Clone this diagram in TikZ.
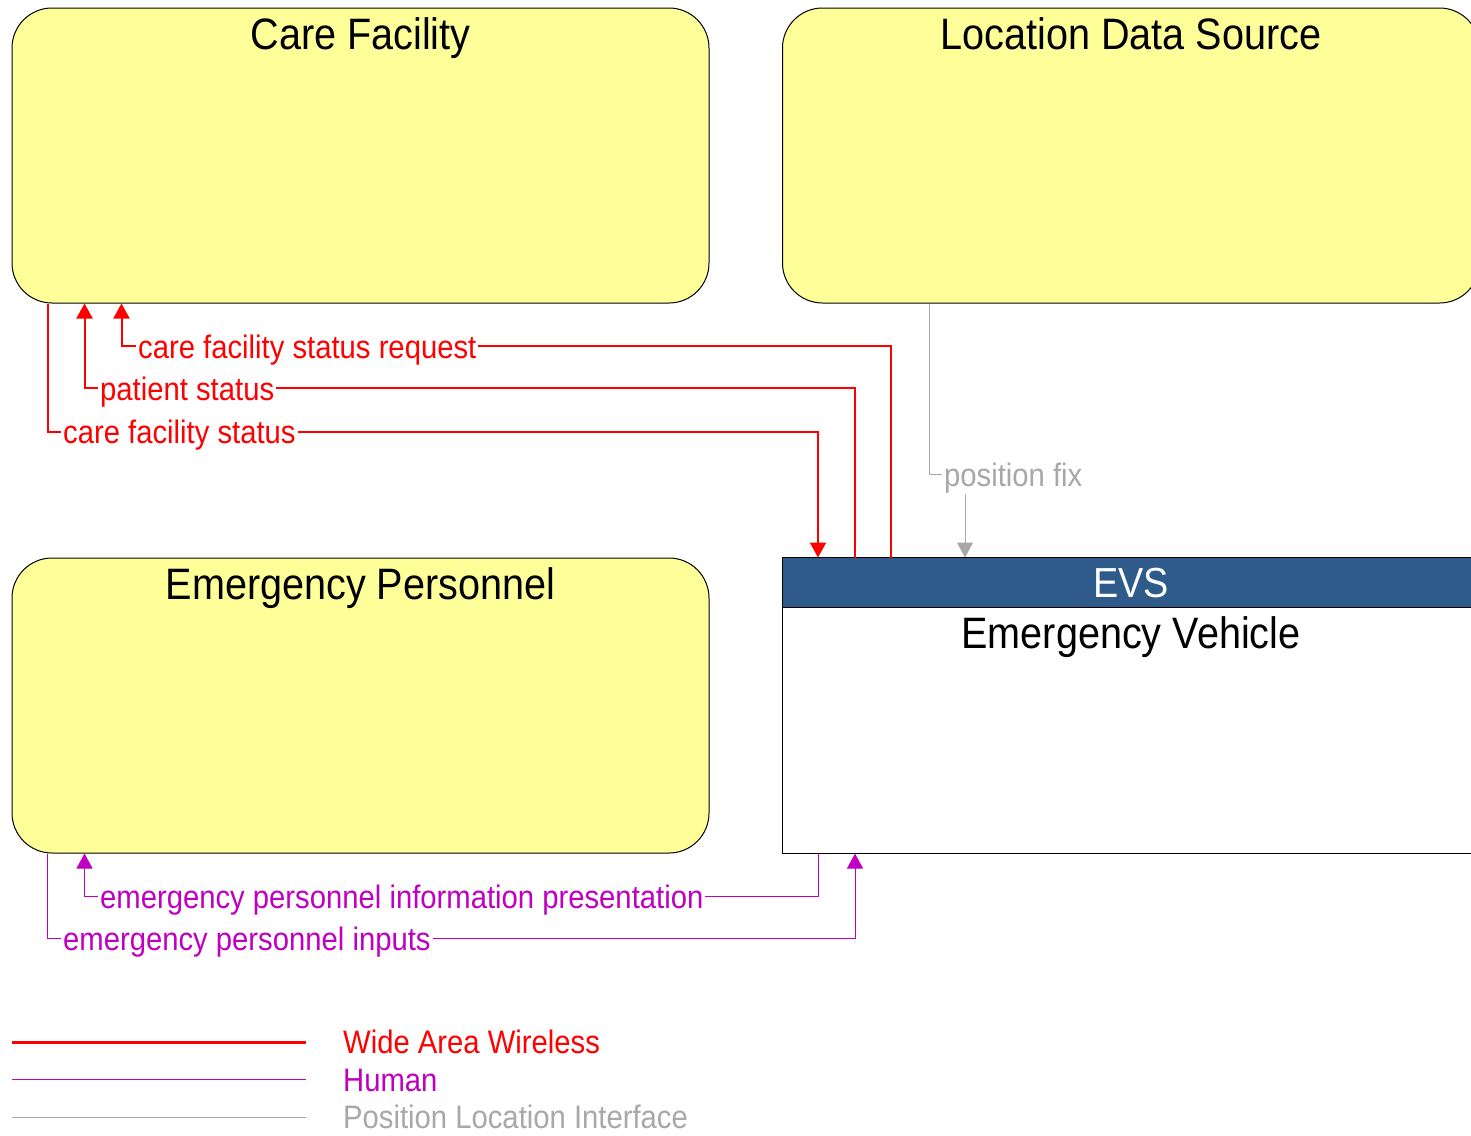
\documentclass[tikz,border=0pt]{standalone}
\usepackage{fontspec}
\setmainfont{Liberation Sans}[FakeStretch=0.9]
\usetikzlibrary{arrows.meta}
\definecolor{elemyellow}{HTML}{FFFF99}
\definecolor{evsblue}{HTML}{2E5B8A}
\definecolor{wawred}{HTML}{FF0000}
\definecolor{hummag}{HTML}{C000C0}
\definecolor{pligray}{HTML}{A8A8A8}
\newcommand{\titlefs}{\fontsize{44}{48}\selectfont}
\newcommand{\flowfs}{\fontsize{32.5}{36}\selectfont}

\begin{document}
\begin{tikzpicture}[x=1pt,y=-1pt,
  elem/.style={draw=black,fill=elemyellow,rounded corners=40pt,minimum width=697pt,minimum height=295pt,inner sep=0pt,line width=1pt},
  ttl/.style={anchor=base,font=\titlefs},
  flow/.style={anchor=base west,fill=white,inner xsep=2pt,inner ysep=1pt,font=\flowfs},
  waw/.style={draw=wawred,line width=2pt},
  hum/.style={draw=hummag,line width=1pt},
  pli/.style={draw=pligray,line width=1pt},
  tip/.style={-{Triangle[length=15pt,width=16pt]}}]
  \useasboundingbox (0,0) rectangle (1471,1135);
  \clip (0,0) rectangle (1471,1135);

  % elements
  \node[elem] (cf) at (360.5,155.5) {};
  \node[elem] (lds) at (1131,155.5) {};
  \node[elem] (ep) at (360.5,705.5) {};
  \node[elem,fill=white,rounded corners=0pt] (evs) at (1131,705.5) {};
  \filldraw[evsblue,draw=black,line width=1pt] (evs.north west) rectangle ([yshift=-50pt]evs.north east);

  \node[ttl] at ([yshift=-42pt]cf.north) {Care Facility};
  \node[ttl] at ([yshift=-42pt]lds.north) {Location Data Source};
  \node[ttl] at ([yshift=-42pt]ep.north) {Emergency Personnel};
  \node[ttl,text=white,font=\fontsize{42}{46}\selectfont] at ([yshift=-40pt]evs.north) {EVS};
  \node[ttl] at ([yshift=-91pt]evs.north) {Emergency Vehicle};

  % flows
  \draw[waw,tip] ([xshift=109pt]evs.north west) -- ++(0,-212) -| ([xshift=110pt]cf.south west);
  \draw[waw,tip] ([xshift=73pt]evs.north west) -- ++(0,-170) -| ([xshift=73pt]cf.south west);
  \draw[waw,tip] ([xshift=36pt]cf.south west) -- ++(0,128) -| ([xshift=36pt]evs.north west);
  \draw[pli,tip] ([xshift=147pt]lds.south west) -- ++(0,171) -| ([xshift=183pt]evs.north west);
  \draw[hum,tip] ([xshift=36pt]evs.south west) -- ++(0,43) -| ([xshift=73pt]ep.south west);
  \draw[hum,tip] ([xshift=36pt]ep.south west) -- ++(0,85) -| ([xshift=73pt]evs.south west);

  \node[flow,text=wawred] (cfsr) at (136,358) {care facility status request};
  \node[flow,text=wawred] (ps) at (98,400) {patient status};
  \node[flow,text=wawred] (cfs) at (61,443) {care facility status};
  \node[flow,text=pligray] (pf) at (942,486) {position fix};
  \node[flow,text=hummag] (epip) at (98,908) {emergency personnel information presentation};
  \node[flow,text=hummag] (epi) at (61,950) {emergency personnel inputs};

  % legend
  \node[flow,text=wawred] (lwaw) at (341,1053) {Wide Area Wireless};
  \node[flow,text=hummag] (lhum) at (341,1091) {Human};
  \node[flow,text=pligray] (lpli) at (341,1128) {Position Location Interface};
  \draw[waw,line width=3pt] (12,1042) coordinate (lw1) -- ++(294,0);
  \draw[hum] (12,1079) coordinate (lw2) -- ++(294,0);
  \draw[pli] (12,1117) coordinate (lw3) -- ++(294,0);
\end{tikzpicture}
\end{document}
